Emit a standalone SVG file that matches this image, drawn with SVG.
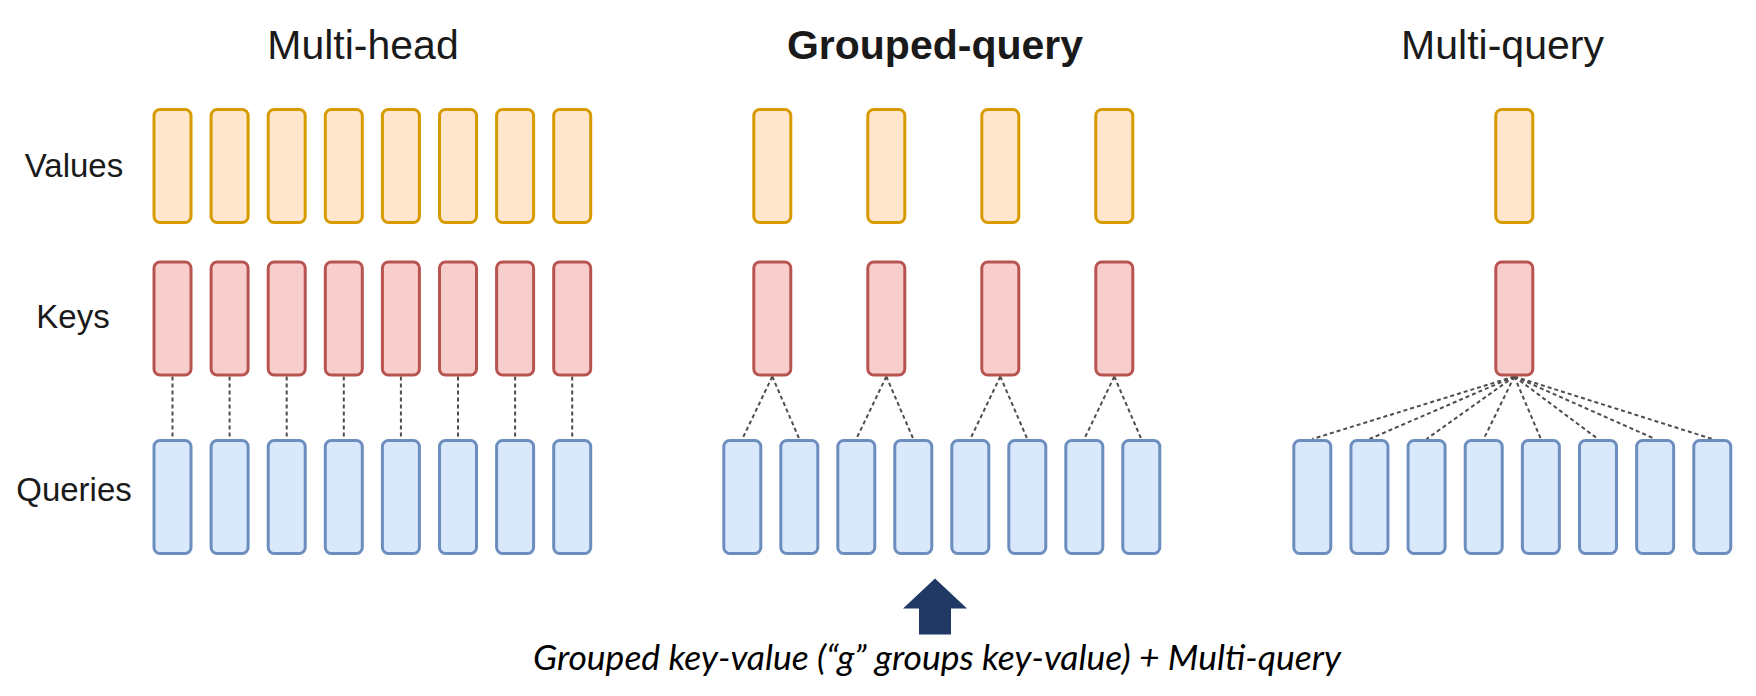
<svg xmlns="http://www.w3.org/2000/svg" width="1756" height="696" viewBox="0 0 1756 696">
<style>
.t{font-family:"Liberation Sans",Arial,sans-serif;fill:#1a1a1a}
.title{font-size:41px}
.lbl{font-size:33px}
.v{fill:#ffe6cc;stroke:#d79b00;stroke-width:3}
.k{fill:#f8cecc;stroke:#b85450;stroke-width:3}
.q{fill:#dae8fc;stroke:#6c8ebf;stroke-width:3}
.c line{stroke:#4d4d4d;stroke-width:2;stroke-dasharray:4 3}
</style>
<defs>
<rect id="bar" width="37" height="113" rx="6"/>
</defs>
<rect width="1756" height="696" fill="#fff"/>
<g id="titles">
<text class="t title" x="363" y="59" text-anchor="middle">Multi-head</text>
<text class="t title" x="935" y="59" text-anchor="middle" font-weight="bold">Grouped-query</text>
<text class="t title" x="1502.5" y="59" text-anchor="middle">Multi-query</text>
</g>
<g id="row-labels">
<text class="t lbl" x="74" y="177" text-anchor="middle">Values</text>
<text class="t lbl" x="73" y="328" text-anchor="middle">Keys</text>
<text class="t lbl" x="74" y="501" text-anchor="middle">Queries</text>
</g>
<g id="connectors" class="c">
<line x1="172.5" y1="376.5" x2="172.5" y2="439"/>
<line x1="229.6" y1="376.5" x2="229.6" y2="439"/>
<line x1="286.7" y1="376.5" x2="286.7" y2="439"/>
<line x1="343.8" y1="376.5" x2="343.8" y2="439"/>
<line x1="400.9" y1="376.5" x2="400.9" y2="439"/>
<line x1="458" y1="376.5" x2="458" y2="439"/>
<line x1="515.1" y1="376.5" x2="515.1" y2="439"/>
<line x1="572.2" y1="376.5" x2="572.2" y2="439"/>
<line x1="772.3" y1="376.5" x2="742.3" y2="439"/>
<line x1="772.3" y1="376.5" x2="799.3" y2="439"/>
<line x1="886.3" y1="376.5" x2="856.3" y2="439"/>
<line x1="886.3" y1="376.5" x2="913.3" y2="439"/>
<line x1="1000.3" y1="376.5" x2="970.3" y2="439"/>
<line x1="1000.3" y1="376.5" x2="1027.3" y2="439"/>
<line x1="1114.3" y1="376.5" x2="1084.3" y2="439"/>
<line x1="1114.3" y1="376.5" x2="1141.3" y2="439"/>
<line x1="1514.3" y1="376.5" x2="1312.3" y2="439"/>
<line x1="1514.3" y1="376.5" x2="1369.44" y2="439"/>
<line x1="1514.3" y1="376.5" x2="1426.58" y2="439"/>
<line x1="1514.3" y1="376.5" x2="1483.72" y2="439"/>
<line x1="1514.3" y1="376.5" x2="1540.86" y2="439"/>
<line x1="1514.3" y1="376.5" x2="1598" y2="439"/>
<line x1="1514.3" y1="376.5" x2="1655.14" y2="439"/>
<line x1="1514.3" y1="376.5" x2="1712.28" y2="439"/>
</g>
<g id="multi-head">
<g id="mh-values" class="v">
<use href="#bar" x="154" y="109.5"/><use href="#bar" x="211.1" y="109.5"/><use href="#bar" x="268.2" y="109.5"/><use href="#bar" x="325.3" y="109.5"/><use href="#bar" x="382.4" y="109.5"/><use href="#bar" x="439.5" y="109.5"/><use href="#bar" x="496.6" y="109.5"/><use href="#bar" x="553.7" y="109.5"/>
</g>
<g id="mh-keys" class="k">
<use href="#bar" x="154" y="262"/><use href="#bar" x="211.1" y="262"/><use href="#bar" x="268.2" y="262"/><use href="#bar" x="325.3" y="262"/><use href="#bar" x="382.4" y="262"/><use href="#bar" x="439.5" y="262"/><use href="#bar" x="496.6" y="262"/><use href="#bar" x="553.7" y="262"/>
</g>
<g id="mh-queries" class="q">
<use href="#bar" x="154" y="440.5"/><use href="#bar" x="211.1" y="440.5"/><use href="#bar" x="268.2" y="440.5"/><use href="#bar" x="325.3" y="440.5"/><use href="#bar" x="382.4" y="440.5"/><use href="#bar" x="439.5" y="440.5"/><use href="#bar" x="496.6" y="440.5"/><use href="#bar" x="553.7" y="440.5"/>
</g>
</g>
<g id="grouped-query">
<g id="gq-values" class="v">
<use href="#bar" x="753.8" y="109.5"/><use href="#bar" x="867.8" y="109.5"/><use href="#bar" x="981.8" y="109.5"/><use href="#bar" x="1095.8" y="109.5"/>
</g>
<g id="gq-keys" class="k">
<use href="#bar" x="753.8" y="262"/><use href="#bar" x="867.8" y="262"/><use href="#bar" x="981.8" y="262"/><use href="#bar" x="1095.8" y="262"/>
</g>
<g id="gq-queries" class="q">
<use href="#bar" x="723.8" y="440.5"/><use href="#bar" x="780.8" y="440.5"/><use href="#bar" x="837.8" y="440.5"/><use href="#bar" x="894.8" y="440.5"/><use href="#bar" x="951.8" y="440.5"/><use href="#bar" x="1008.8" y="440.5"/><use href="#bar" x="1065.8" y="440.5"/><use href="#bar" x="1122.8" y="440.5"/>
</g>
</g>
<g id="multi-query">
<g id="mq-values" class="v"><use href="#bar" x="1495.8" y="109.5"/></g>
<g id="mq-keys" class="k"><use href="#bar" x="1495.8" y="262"/></g>
<g id="mq-queries" class="q">
<use href="#bar" x="1293.8" y="440.5"/><use href="#bar" x="1350.94" y="440.5"/><use href="#bar" x="1408.08" y="440.5"/><use href="#bar" x="1465.22" y="440.5"/><use href="#bar" x="1522.36" y="440.5"/><use href="#bar" x="1579.5" y="440.5"/><use href="#bar" x="1636.64" y="440.5"/><use href="#bar" x="1693.78" y="440.5"/>
</g>
</g>
<g id="arrow">
<polygon points="935,578.5 967,608.5 951,608.5 951,634.5 919,634.5 919,608.5 903,608.5" fill="#1f3864"/>
</g>
<g id="caption">
<text x="937" y="670" text-anchor="middle" font-family="Lato, 'Open Sans', sans-serif" font-style="italic" font-size="35.5" fill="#000">Grouped key-value (“g” groups key-value) + Multi-query</text>
</g>
</svg>
